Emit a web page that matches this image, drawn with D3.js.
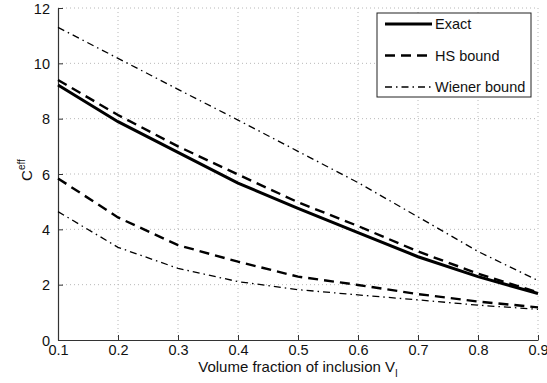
<!DOCTYPE html>
<html>
<head>
<meta charset="utf-8">
<script src="https://cdn.jsdelivr.net/npm/d3@7"></script>
<style>
  body { margin: 0; background: #fff; }
  text { font-family: "Liberation Sans", Arial, sans-serif; }
</style>
</head>
<body>
<svg id="chart"></svg>
<script>
"use strict";

// volume fraction of inclusion
var fractions = [0.1, 0.2, 0.3, 0.4, 0.5, 0.6, 0.7, 0.8, 0.9];
var exact = [9.22, 7.89, 6.78, 5.67, 4.76, 3.88, 3.01, 2.29, 1.68];
var hsUpper = [9.4, 8.13, 7.0, 5.98, 4.98, 4.12, 3.2, 2.4, 1.72];
var hsLower = [5.84, 4.43, 3.43, 2.83, 2.29, 1.99, 1.66, 1.39, 1.18];
var wienerUpper = [11.3, 10.18, 9.06, 7.95, 6.82, 5.69, 4.45, 3.2, 2.15];
var wienerLower = [4.64, 3.35, 2.59, 2.11, 1.82, 1.63, 1.45, 1.26, 1.11];
var xTicks = [0.1, 0.2, 0.3, 0.4, 0.5, 0.6, 0.7, 0.8, 0.9];
var yTicks = [0, 2, 4, 6, 8, 10, 12];
var legendNames = ["Exact", "HS bound", "Wiener bound"];

var width = 547, height = 383;
var margin = { top: 8, right: 9, bottom: 43, left: 58 },
    chartWidth = width - margin.left - margin.right,
    chartHeight = height - margin.top - margin.bottom;

var svg = d3.select("#chart")
    .attr("width", width)
    .attr("height", height);

var g = svg.append("g")
    .attr("transform", "translate(" + margin.left + "," + margin.top + ")");

var xScale = d3.scaleLinear().domain([0.1, 0.9]).range([0, chartWidth]);
var yScale = d3.scaleLinear().domain([0, 12]).range([chartHeight, 0]);

// dotted grid
g.append("g").selectAll("line")
    .data(xTicks.slice(1))
    .enter().append("line")
    .attr("x1", d => xScale(d)).attr("x2", d => xScale(d))
    .attr("y1", 0).attr("y2", chartHeight)
    .attr("stroke", "#b8b8b8").attr("stroke-width", 1)
    .attr("stroke-dasharray", "1,3");
g.append("g").selectAll("line")
    .data(yTicks.slice(1))
    .enter().append("line")
    .attr("y1", d => yScale(d)).attr("y2", d => yScale(d))
    .attr("x1", 0).attr("x2", chartWidth)
    .attr("stroke", "#b8b8b8").attr("stroke-width", 1)
    .attr("stroke-dasharray", "1,3");

// axes
var xAxis = g.append("g")
    .attr("transform", "translate(0," + chartHeight + ")")
    .call(d3.axisBottom(xScale).tickValues(xTicks).tickFormat(d3.format(".1f"))
        .tickSizeInner(-5).tickSizeOuter(0).tickPadding(5));
var yAxis = g.append("g")
    .call(d3.axisLeft(yScale).tickValues(yTicks).tickFormat(d3.format("d"))
        .tickSizeInner(-5).tickSizeOuter(0).tickPadding(8));

[xAxis, yAxis].forEach(function (ax) {
    ax.select(".domain").attr("stroke", "#333").attr("stroke-width", 1.2);
    ax.selectAll(".tick line").attr("stroke", "#333");
    ax.selectAll("text").attr("font-size", 14.5).attr("fill", "#111")
        .style("font-family", "'Liberation Sans', Arial, sans-serif");
});
xAxis.selectAll("text").attr("dy", "0.71em");
yAxis.selectAll("text").attr("dy", "0.36em");

// series
var styles = {
    exact: { width: 3, dash: null },
    hs: { width: 2.4, dash: "10,6" },
    wiener: { width: 1.3, dash: "7,4,1.5,4" }
};
var series = [
    { values: exact, style: styles.exact },
    { values: hsUpper, style: styles.hs },
    { values: hsLower, style: styles.hs },
    { values: wienerUpper, style: styles.wiener },
    { values: wienerLower, style: styles.wiener }
];

var line = d3.line()
    .x(function (d, i) { return xScale(fractions[i]); })
    .y(function (d) { return yScale(d); });

series.forEach(function (s) {
    g.append("path")
        .datum(s.values)
        .attr("d", line)
        .attr("fill", "none")
        .attr("stroke", "#000")
        .attr("stroke-width", s.style.width)
        .attr("stroke-dasharray", s.style.dash);
});

// axis labels
g.append("text")
    .attr("text-anchor", "middle")
    .attr("x", chartWidth / 2)
    .attr("y", chartHeight + 32)
    .attr("font-size", 15)
    .attr("fill", "#111")
    .text("Volume fraction of inclusion V")
    .append("tspan")
    .attr("font-size", 10)
    .attr("dy", 5)
    .text("I");

var yLabel = g.append("text")
    .attr("text-anchor", "middle")
    .attr("transform", "translate(-26," + (chartHeight / 2 - 4) + ") rotate(-90)")
    .attr("font-size", 15)
    .attr("fill", "#111")
    .text("C");
yLabel.append("tspan").attr("font-size", 10).attr("dy", -7).text("eff");

// legend
var legend = svg.append("g").attr("transform", "translate(377,13)");
legend.append("rect")
    .attr("width", 154).attr("height", 84)
    .attr("fill", "#fff").attr("stroke", "#222").attr("stroke-width", 1);
var legendStyles = [styles.exact, styles.hs, styles.wiener];
legendNames.forEach(function (name, i) {
    var y = 11 + i * 31.5;
    legend.append("line")
        .attr("x1", 8).attr("x2", 55)
        .attr("y1", y).attr("y2", y)
        .attr("stroke", "#000")
        .attr("stroke-width", legendStyles[i].width)
        .attr("stroke-dasharray", legendStyles[i].dash);
    legend.append("text")
        .attr("x", 58).attr("y", y)
        .attr("dy", "0.36em")
        .attr("font-size", 14.5)
        .attr("fill", "#111")
        .text(name);
});
</script>
</body>
</html>
